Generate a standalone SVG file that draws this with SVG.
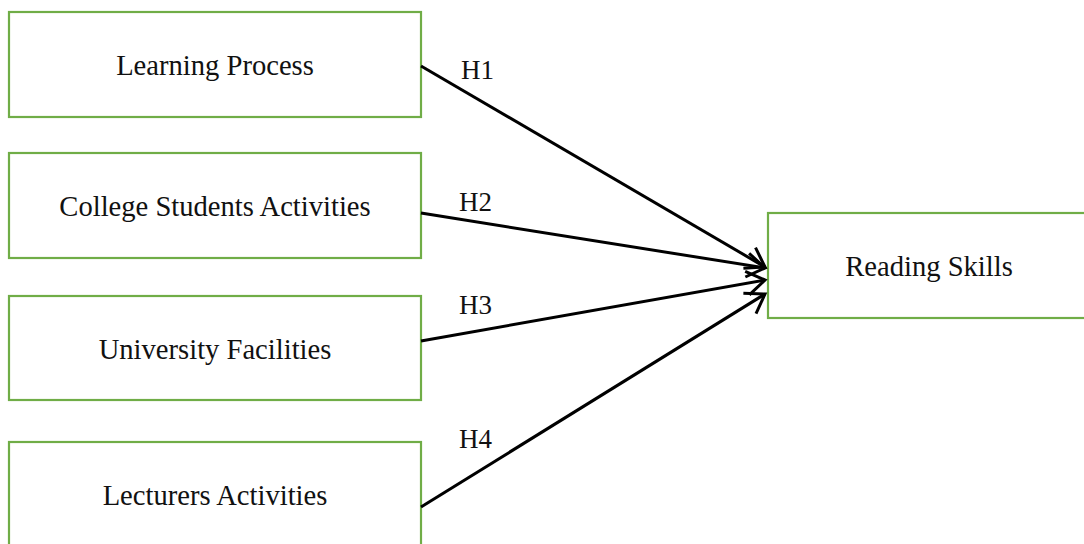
<svg xmlns="http://www.w3.org/2000/svg" width="1084" height="544" viewBox="0 0 1084 544">
<style>
.box{fill:#fff;stroke:#70AD47;stroke-width:2.2}
.t{font-family:"Liberation Serif",serif;font-size:28.6px;fill:#111;text-anchor:middle}
.h{font-family:"Liberation Serif",serif;font-size:27px;fill:#111}
.c{stroke:#000;stroke-width:3;fill:none;marker-end:url(#ah)}
</style>
<defs>
<marker id="ah" markerWidth="9" markerHeight="9" refX="6.5" refY="4.5" orient="auto" markerUnits="strokeWidth">
<path d="M0.5,0.5 L6.5,4.5 L0.5,8.5" fill="none" stroke="#000" stroke-width="1"/>
</marker>
</defs>
<rect width="1084" height="544" fill="#fff"/>
<g id="n1"><rect class="box" x="9" y="12" width="412" height="105"/><text class="t" x="215" y="75">Learning Process</text></g>
<g id="n2"><rect class="box" x="9" y="153" width="412" height="105"/><text class="t" x="215" y="216">College Students Activities</text></g>
<g id="n3"><rect class="box" x="9" y="296" width="412" height="104"/><text class="t" x="215" y="359">University Facilities</text></g>
<g id="n4"><rect class="box" x="9" y="442" width="412" height="106"/><text class="t" x="215" y="505">Lecturers Activities</text></g>
<g id="n5"><rect class="box" x="768" y="213" width="320" height="105"/><text class="t" x="929" y="276">Reading Skills</text></g>
<g id="connectors">
<line class="c" x1="421" y1="66" x2="765" y2="267"/>
<line class="c" x1="421" y1="213" x2="765" y2="268"/>
<line class="c" x1="421" y1="341" x2="765" y2="280"/>
<line class="c" x1="421" y1="507" x2="765" y2="294"/>
<text class="h" x="461" y="79">H1</text>
<text class="h" x="459" y="211">H2</text>
<text class="h" x="459" y="314">H3</text>
<text class="h" x="459" y="448">H4</text>
</g>
</svg>
